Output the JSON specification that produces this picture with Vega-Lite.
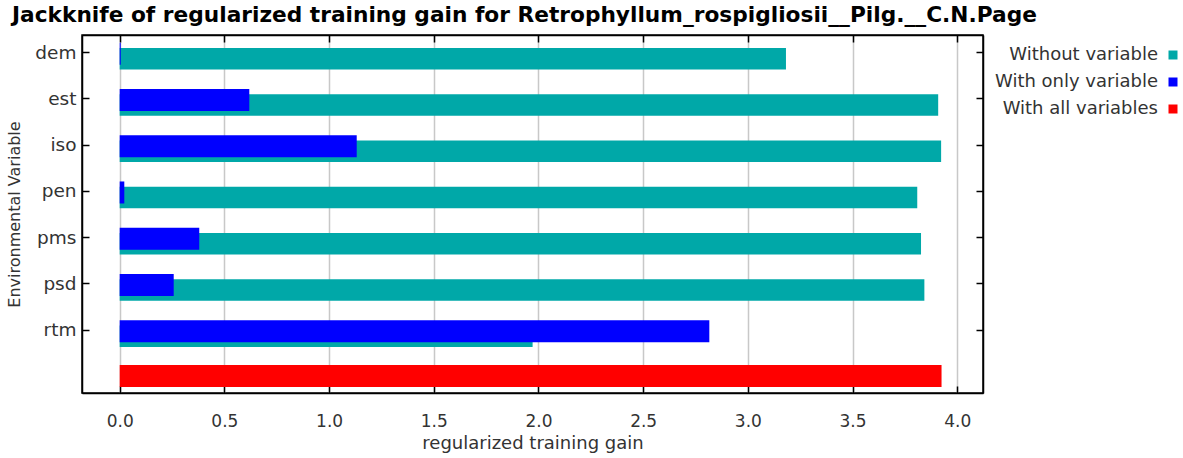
{
  "$schema": "https://vega.github.io/schema/vega-lite/v6.json",
  "width": 901,
  "height": 358,
  "autosize": {"type": "none"},
  "padding": {"left": 82, "top": 35, "right": 200, "bottom": 65},
  "background": "white",
  "title": {
    "text": "Jackknife of regularized training gain for Retrophyllum_rospigliosii__Pilg.__C.N.Page",
    "anchor": "start",
    "frame": "group",
    "dx": -70,
    "dy": 22,
    "baseline": "alphabetic",
    "offset": 13,
    "font": "DejaVu Sans",
    "fontWeight": "bold",
    "fontSize": 21.7,
    "color": "black"
  },
  "config": {
    "view": {"stroke": "black", "strokeWidth": 1.5},
    "font": "DejaVu Sans",
    "axis": {
      "gridColor": "#c8c8c8",
      "gridWidth": 1.5,
      "domainColor": "black",
      "domainWidth": 1.5,
      "tickColor": "black",
      "tickWidth": 1.5,
      "labelFont": "DejaVu Sans",
      "labelFontSize": 17,
      "labelColor": "#333333",
      "titleFont": "DejaVu Sans",
      "titleFontSize": 18,
      "titleFontWeight": "normal",
      "titleColor": "#333333"
    },
    "legend": {
      "labelFont": "DejaVu Sans",
      "labelFontSize": 18,
      "labelColor": "#333333",
      "labelLimit": 400
    }
  },
  "data": {
    "values": [
      {"variable": "dem", "series": "Without variable", "gain": 3.182},
      {"variable": "est", "series": "Without variable", "gain": 3.909},
      {"variable": "iso", "series": "Without variable", "gain": 3.923},
      {"variable": "pen", "series": "Without variable", "gain": 3.809},
      {"variable": "pms", "series": "Without variable", "gain": 3.827},
      {"variable": "psd", "series": "Without variable", "gain": 3.843},
      {"variable": "rtm", "series": "Without variable", "gain": 1.972},
      {"variable": "dem", "series": "With only variable", "gain": 0.005},
      {"variable": "est", "series": "With only variable", "gain": 0.619},
      {"variable": "iso", "series": "With only variable", "gain": 1.132},
      {"variable": "pen", "series": "With only variable", "gain": 0.022},
      {"variable": "pms", "series": "With only variable", "gain": 0.38},
      {"variable": "psd", "series": "With only variable", "gain": 0.258},
      {"variable": "rtm", "series": "With only variable", "gain": 2.816},
      {"variable": "all", "series": "With all variables", "gain": 3.925}
    ]
  },
  "encoding": {
    "y": {
      "field": "variable",
      "type": "nominal",
      "scale": {"type": "point", "domain": ["dem", "est", "iso", "pen", "pms", "psd", "rtm", "all"], "padding": 0.37}
    },
    "x": {
      "field": "gain",
      "type": "quantitative",
      "scale": {"domain": [-0.18, 4.123], "nice": false, "zero": false}
    },
    "color": {
      "field": "series",
      "type": "nominal",
      "scale": {
        "domain": ["Without variable", "With only variable", "With all variables"],
        "range": ["#00a8a8", "#0000ff", "#ff0000"]
      },
      "legend": {
        "title": null,
        "orient": "none",
        "legendX": 1082,
        "legendY": 11,
        "padding": 0,
        "symbolType": "square",
        "symbolSize": 81,
        "symbolStrokeWidth": 0,
        "symbolOpacity": 1,
        "labelAlign": "right",
        "labelOffset": -24,
        "labelLimit": 400,
        "rowPadding": 9
      }
    }
  },
  "layer": [
    {
      "transform": [{"filter": "datum.series === 'Without variable'"}],
      "mark": {"type": "bar", "height": 21.5, "yOffset": 6.7, "opacity": 1},
      "encoding": {
        "x": {
          "field": "gain",
          "type": "quantitative",
          "title": "regularized training gain",
          "axis": {
            "orient": "bottom",
            "values": [0, 0.5, 1, 1.5, 2, 2.5, 3, 3.5, 4],
            "format": ".1f",
            "tickSize": -7,
            "labelPadding": 27,
            "titlePadding": 5
          }
        },
        "y": {
          "field": "variable",
          "type": "nominal",
          "title": "Environmental Variable",
          "axis": {
            "orient": "left",
            "values": ["dem", "est", "iso", "pen", "pms", "psd", "rtm"],
            "tickSize": -7,
            "labelPadding": 13,
            "labelFontSize": 18.5,
            "titleFontSize": 16,
            "titlePadding": 12
          }
        }
      }
    },
    {
      "transform": [{"filter": "datum.series === 'With only variable'"}],
      "mark": {"type": "bar", "height": 22, "yOffset": 1.6, "opacity": 1},
      "encoding": {
        "x": {
          "field": "gain",
          "type": "quantitative",
          "axis": {
            "orient": "top",
            "values": [0, 0.5, 1, 1.5, 2, 2.5, 3, 3.5, 4],
            "labels": false,
            "title": null,
            "grid": false,
            "tickSize": -7
          }
        },
        "y": {
          "field": "variable",
          "type": "nominal",
          "axis": {
            "orient": "right",
            "values": ["dem", "est", "iso", "pen", "pms", "psd", "rtm"],
            "labels": false,
            "title": null,
            "grid": false,
            "tickSize": -7
          }
        }
      }
    },
    {
      "transform": [{"filter": "datum.series === 'With all variables'"}],
      "mark": {"type": "bar", "height": 22, "yOffset": 0, "opacity": 1},
      "encoding": {
        "x": {"field": "gain", "type": "quantitative", "axis": null},
        "y": {"field": "variable", "type": "nominal", "axis": null}
      }
    }
  ],
  "resolve": {"axis": {"x": "independent", "y": "independent"}}
}
